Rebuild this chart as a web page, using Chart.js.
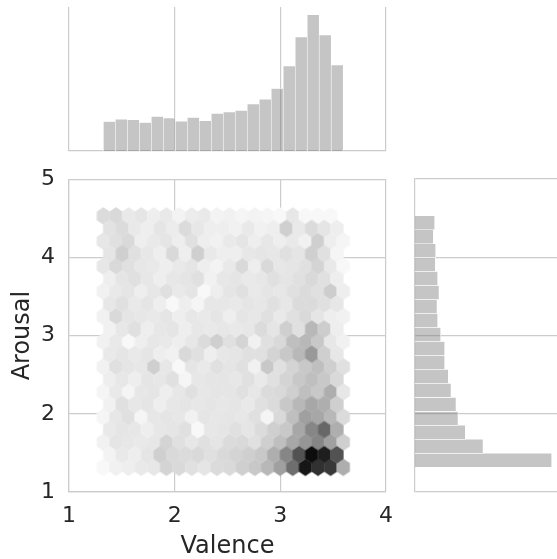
<!DOCTYPE html>
<html lang="en">
<head>
<meta charset="UTF-8">
<title>Valence / Arousal</title>
<script src="https://cdn.jsdelivr.net/npm/chart.js"></script>
<style>
  html, body { margin: 0; padding: 0; background: #fff; }
  body { width: 557px; height: 559px; position: relative; overflow: hidden; }
  canvas { position: absolute; }
  #top-hist { left: 0; top: 0; }
  #hex-main { left: 0; top: 152px; }
  #right-hist { left: 400px; top: 160px; }
</style>
</head>
<body>
<canvas id="top-hist" width="400" height="160"></canvas>
<canvas id="hex-main" width="404" height="409"></canvas>
<canvas id="right-hist" width="157" height="399"></canvas>
<script>
// ---- data ----
const valenceRange = [1.325, 3.595];   // data extent on x
const arousalRange = [1.316, 4.531];   // data extent on y
const hexGridSize = 19;                // hexes across (matplotlib style)

// marginal histograms (bin counts, low to high)
const valenceCounts = [88, 95, 93, 85, 103, 98, 89, 100, 90, 112, 116, 121, 140, 154, 186, 253, 340, 406, 346, 256];
const arousalCounts = [410, 204, 151, 129, 123, 108, 100, 89, 89, 77, 68, 66, 72, 68, 61, 62, 55, 59];
const valenceAxisTop = 429;
const arousalAxisTop = 426;

// hexbin counts, top row first. lattice A: 20 cols x 11 rows, lattice B (offset) 19 x 10
const hexLatticeA = [
  [13, 14, 7, 9, 5, 7, 3, 6, 7, 3, 4, 2, 3, 2, 1, 8, 1, 1, 1, 0],
  [8, 11, 14, 5, 7, 9, 5, 11, 5, 4, 7, 9, 5, 8, 5, 7, 4, 18, 5, 2],
  [8, 14, 11, 8, 7, 5, 7, 9, 5, 3, 7, 14, 5, 14, 8, 9, 11, 16, 7, 1],
  [4, 7, 9, 5, 8, 11, 7, 9, 1, 5, 9, 11, 7, 9, 8, 11, 13, 11, 19, 5],
  [4, 14, 9, 8, 7, 9, 5, 8, 7, 9, 5, 9, 8, 11, 7, 11, 14, 9, 5, 4],
  [4, 7, 1, 5, 8, 7, 5, 8, 13, 18, 11, 16, 4, 11, 14, 25, 28, 21, 8, 4],
  [4, 11, 9, 8, 18, 8, 1, 9, 7, 11, 9, 11, 4, 21, 11, 16, 21, 25, 18, 11],
  [2, 7, 2, 8, 9, 5, 8, 11, 8, 9, 9, 11, 8, 13, 14, 18, 25, 21, 32, 8],
  [2, 8, 11, 2, 8, 9, 8, 4, 9, 8, 9, 8, 11, 2, 14, 25, 38, 35, 28, 13],
  [4, 9, 8, 7, 8, 16, 11, 8, 11, 9, 13, 14, 11, 18, 25, 35, 42, 49, 38, 18],
  [1, 4, 5, 7, 8, 16, 14, 11, 9, 13, 14, 18, 21, 28, 38, 59, 96, 85, 82, 32]
];
const hexLatticeB = [
  [10, 13, 7, 5, 9, 6, 13, 8, 5, 5, 4, 7, 4, 5, 18, 7, 13, 9, 5],
  [9, 18, 11, 8, 5, 14, 5, 18, 7, 5, 5, 8, 9, 8, 11, 9, 18, 11, 2],
  [5, 9, 11, 8, 5, 8, 9, 11, 4, 8, 9, 7, 8, 11, 9, 11, 14, 11, 5],
  [8, 11, 7, 9, 5, 1, 5, 2, 8, 8, 7, 9, 8, 11, 8, 13, 13, 11, 8],
  [4, 8, 11, 5, 8, 9, 5, 8, 7, 8, 7, 8, 13, 9, 18, 11, 28, 19, 5],
  [7, 9, 7, 9, 5, 4, 14, 11, 5, 8, 9, 11, 11, 16, 21, 28, 41, 18, 8],
  [5, 8, 5, 9, 8, 11, 2, 8, 9, 9, 8, 11, 7, 11, 16, 21, 25, 21, 14],
  [4, 11, 8, 9, 5, 8, 9, 8, 9, 8, 9, 7, 11, 13, 21, 28, 35, 32, 18],
  [7, 9, 8, 5, 8, 9, 11, 1, 8, 9, 11, 9, 13, 18, 21, 35, 49, 62, 32],
  [3, 7, 5, 9, 18, 14, 13, 14, 11, 14, 16, 18, 21, 32, 49, 71, 100, 93, 71]
];

// ---- derived ----
const sx = (valenceRange[1] - valenceRange[0]) / hexGridSize;
const sy = (arousalRange[1] - arousalRange[0]) / Math.floor(hexGridSize / Math.sqrt(3));
const maxCount = Math.max(...hexLatticeA.flat(), ...hexLatticeB.flat());

const hexPoints = [];
function addLattice(rows, off) {
  rows.forEach((row, k) => {
    const j = rows.length - 1 - k;
    row.forEach((count, i) => {
      if (count > 0) {
        hexPoints.push({ x: valenceRange[0] + (i + off) * sx, y: arousalRange[0] + (j + off) * sy, count });
      }
    });
  });
}
addLattice(hexLatticeA, 0);
addLattice(hexLatticeB, 0.5);

const vBin = (valenceRange[1] - valenceRange[0]) / valenceCounts.length;
const aBin = (arousalRange[1] - arousalRange[0]) / arousalCounts.length;
const valenceBars = valenceCounts.map((v, i) => ({ x: valenceRange[0] + (i + 0.5) * vBin, y: v }));
const arousalBars = arousalCounts.map((v, i) => ({ y: arousalRange[0] + (i + 0.5) * aBin, x: v }));

// ---- styling ----
const FONT = 'DejaVu Sans';
const TEXT = '#262626';
const GRID = '#cccccc';
const BAR_FILL = 'rgba(110,110,110,0.4)';
const BAR_EDGE = 'rgba(255,255,255,0.8)';

// hexagon sprites, one per grey level
const spriteCache = {};
function hexSprite(chart, count) {
  const xs = chart.scales.x, ys = chart.scales.y;
  const w = Math.abs(xs.getPixelForValue(1 + sx) - xs.getPixelForValue(1)) + 0.7;
  const h = Math.abs(ys.getPixelForValue(1 + sy) - ys.getPixelForValue(1)) * 2 / 3 + 0.7;
  const g = Math.round(250 - (count / maxCount) * 237);
  const key = g + '|' + w.toFixed(2) + '|' + h.toFixed(2);
  if (spriteCache[key]) return spriteCache[key];
  const c = document.createElement('canvas');
  c.width = Math.ceil(w) + 4;
  c.height = Math.ceil(h) + 4;
  const ctx = c.getContext('2d');
  const cx = c.width / 2, cy = c.height / 2;
  ctx.beginPath();
  ctx.moveTo(cx, cy - h / 2);
  ctx.lineTo(cx + w / 2, cy - h / 4);
  ctx.lineTo(cx + w / 2, cy + h / 4);
  ctx.lineTo(cx, cy + h / 2);
  ctx.lineTo(cx - w / 2, cy + h / 4);
  ctx.lineTo(cx - w / 2, cy - h / 4);
  ctx.closePath();
  ctx.fillStyle = `rgb(${g},${g},${g})`;
  ctx.fill();
  spriteCache[key] = c;
  return c;
}

const common = {
  responsive: false,
  animation: false,
  events: [],
  plugins: { legend: { display: false }, tooltip: { enabled: false } }
};

// main hexbin panel
new Chart(document.getElementById('hex-main'), {
  type: 'scatter',
  data: {
    datasets: [{
      data: hexPoints,
      pointRadius: 4,
      pointStyle: ctx => hexSprite(ctx.chart, ctx.raw.count)
    }]
  },
  options: {
    ...common,
    layout: { padding: { left: 0, top: 19, right: 14, bottom: 0 } },
    scales: {
      x: {
        type: 'linear', min: 1, max: 4,
        ticks: { stepSize: 1, color: TEXT, font: { family: FONT, size: 22 }, padding: 11 },
        grid: { color: GRID, lineWidth: 1.2, drawTicks: false },
        border: { color: GRID, width: 1.2 },
        title: { display: true, text: 'Valence', color: TEXT, font: { family: FONT, size: 24 }, padding: 0 },
        afterFit: s => { s.height = 69; }
      },
      y: {
        type: 'linear', min: 1, max: 5,
        ticks: { stepSize: 1, color: TEXT, font: { family: FONT, size: 22 }, padding: 14 },
        grid: { color: GRID, lineWidth: 1.2, drawTicks: false },
        border: { color: GRID, width: 1.2 },
        title: { display: true, text: 'Arousal', color: TEXT, font: { family: FONT, size: 24 }, padding: { top: 8, bottom: 0 } },
        afterFit: s => { s.width = 69; }
      }
    }
  }
});

// top marginal: valence
new Chart(document.getElementById('top-hist'), {
  type: 'bar',
  data: {
    datasets: [{
      data: valenceBars,
      backgroundColor: BAR_FILL,
      borderColor: BAR_EDGE,
      borderWidth: 0.6,
      barPercentage: 1,
      categoryPercentage: 1
    }]
  },
  options: {
    ...common,
    layout: { padding: { left: 69, top: 7, right: 14, bottom: 9 } },
    scales: {
      x: {
        type: 'linear', min: 1, max: 4, offset: false,
        ticks: { stepSize: 1, display: false },
        grid: { color: GRID, lineWidth: 1.2, drawTicks: false, offset: false },
        border: { color: GRID, width: 1.2 },
        afterFit: s => { s.height = 0; }
      },
      y: { type: 'linear', min: 0, max: valenceAxisTop, display: false }
    }
  }
});

// right marginal: arousal
new Chart(document.getElementById('right-hist'), {
  type: 'bar',
  data: {
    datasets: [{
      data: arousalBars,
      backgroundColor: BAR_FILL,
      borderColor: BAR_EDGE,
      borderWidth: 0.6,
      barPercentage: 1,
      categoryPercentage: 1
    }]
  },
  options: {
    ...common,
    indexAxis: 'y',
    layout: { padding: { left: 15, top: 19, right: 0, bottom: 67 } },
    scales: {
      y: {
        type: 'linear', min: 1, max: 5, offset: false,
        ticks: { stepSize: 1, display: false },
        grid: { color: GRID, lineWidth: 1.2, drawTicks: false, offset: false },
        border: { color: GRID, width: 1.2 },
        afterFit: s => { s.width = 0; }
      },
      x: { type: 'linear', min: 0, max: arousalAxisTop, display: false }
    }
  }
});
</script>
</body>
</html>
